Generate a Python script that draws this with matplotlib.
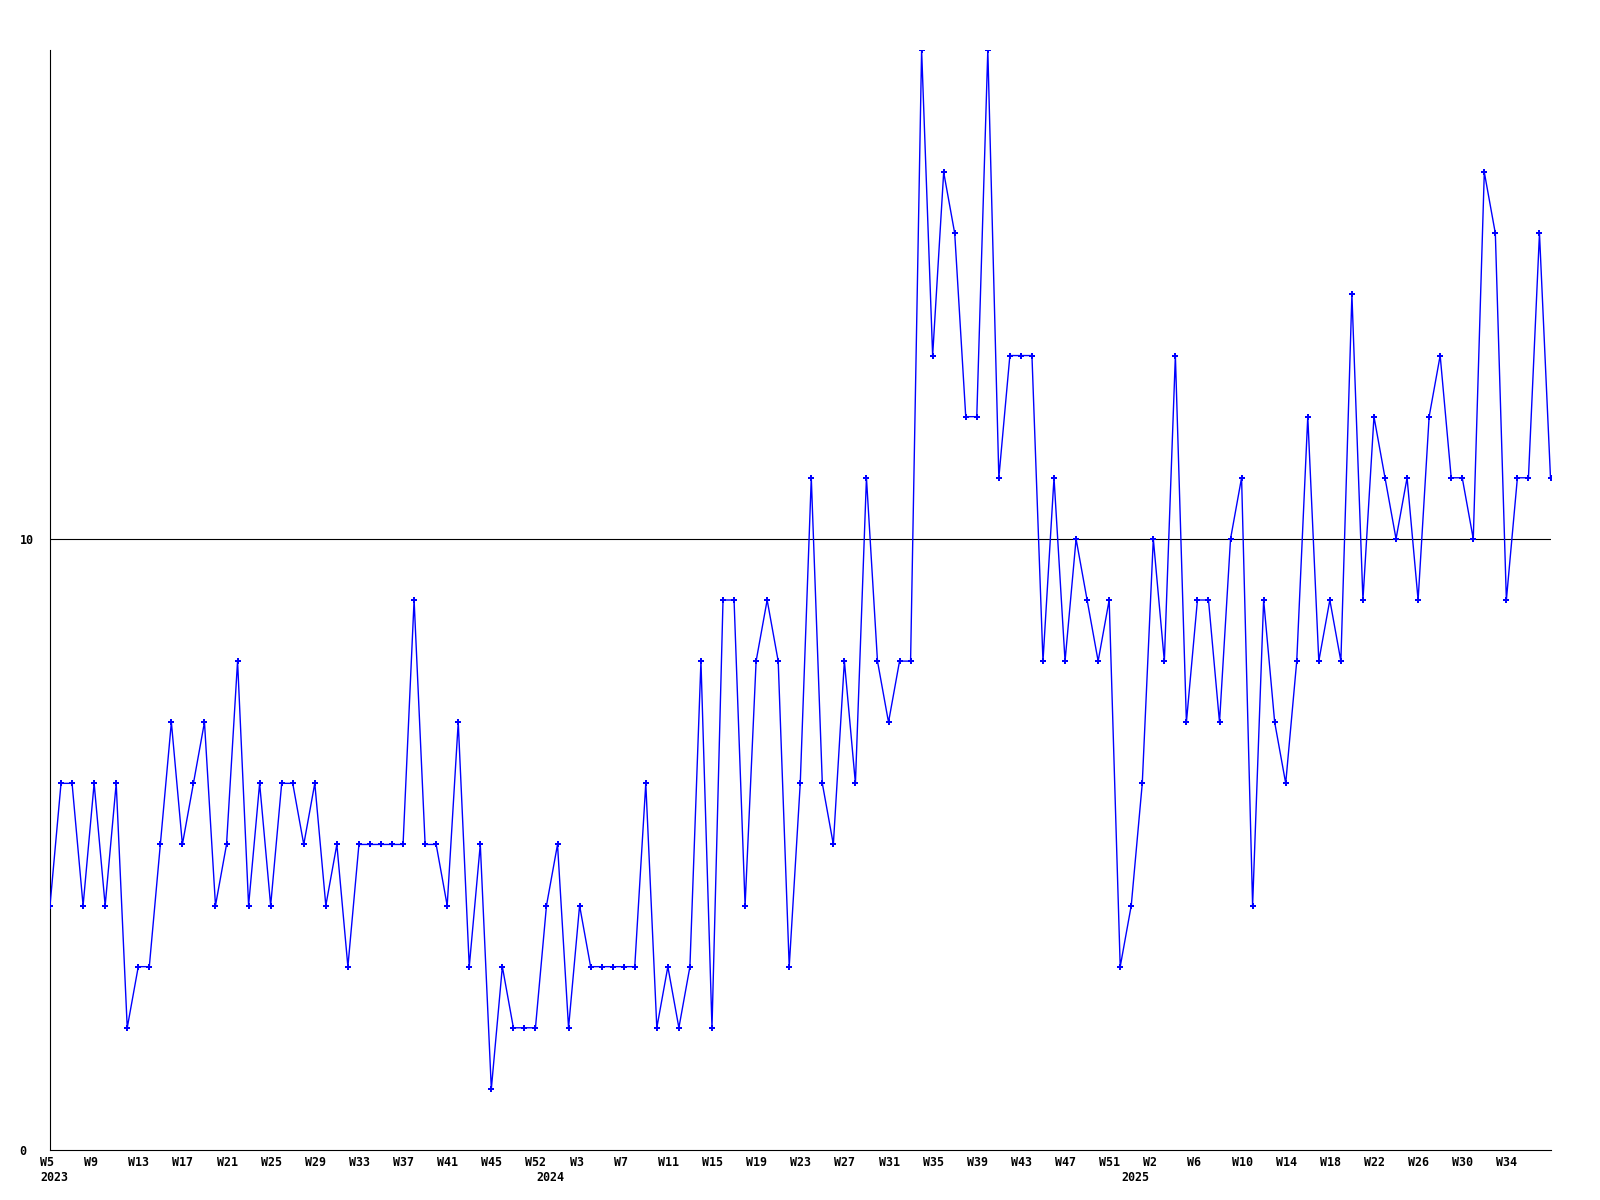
import matplotlib
matplotlib.use('Agg')
import matplotlib.pyplot as plt
from matplotlib.transforms import ScaledTranslation

values = [4, 6, 6, 4, 6, 4, 6, 2, 3, 3,
          5, 7, 5, 6, 7, 4, 5, 8, 4, 6,
          4, 6, 6, 5, 6, 4, 5, 3, 5, 5,
          5, 5, 5, 9, 5, 5, 4, 7, 3, 5,
          1, 3, 2, 2, 2, 4, 5, 2, 4, 3,
          3, 3, 3, 3, 6, 2, 3, 2, 3, 8,
          2, 9, 9, 4, 8, 9, 8, 3, 6, 11,
          6, 5, 8, 6, 11, 8, 7, 8, 8, 18,
          13, 16, 15, 12, 12, 18, 11, 13, 13, 13,
          8, 11, 8, 10, 9, 8, 9, 3, 4, 6,
          10, 8, 13, 7, 9, 9, 7, 10, 11, 4,
          9, 7, 6, 8, 12, 8, 9, 8, 14, 9,
          12, 11, 10, 11, 9, 12, 13, 11, 11, 10,
          16, 15, 9, 11, 11, 15, 11]

week_labels = ['W5', 'W9', 'W13', 'W17', 'W21', 'W25', 'W29', 'W33', 'W37',
               'W41', 'W45', 'W52', 'W3', 'W7', 'W11', 'W15', 'W19', 'W23',
               'W27', 'W31', 'W35', 'W39', 'W43', 'W47', 'W51', 'W2', 'W6',
               'W10', 'W14', 'W18', 'W22', 'W26', 'W30', 'W34']
week_step = 4
years = ['2023', '2024', '2025']
year_index = [0, 45, 98]
y_ticks = [0, 10]
y_max = 18
ref_line = 10

DPI = 100
fig = plt.figure(figsize=(16, 12), dpi=DPI)
ax = fig.add_axes([50 / 1600, 50 / 1200, 1500.5 / 1600, 1100 / 1200])

x = list(range(len(values)))
ax.plot(x, values, color='#0000ff', lw=1.0, marker='P', ms=3.8,
        markeredgewidth=0, zorder=3)
ax.axhline(ref_line, color='black', lw=0.8, zorder=2)

ax.set_xlim(0, len(values) - 1)
ax.set_ylim(0, y_max)

for s in ['top', 'right']:
    ax.spines[s].set_visible(False)
for s in ['left', 'bottom']:
    ax.spines[s].set_color('black')
    ax.spines[s].set_linewidth(0.8)

font = dict(family='DejaVu Sans Mono', weight='bold', size=8.4)

ax.xaxis.remove_overlapping_locs = False
ax.set_xticks([i * week_step for i in range(len(week_labels))])
ax.set_xticklabels(week_labels, **font)
ax.set_xticks(year_index, minor=True)
ax.set_xticklabels(years, minor=True, **font)
ax.set_yticks(y_ticks)
ax.set_yticklabels([str(v) for v in y_ticks], **font)

ax.tick_params(axis='x', which='major', length=0, pad=4.3)
ax.tick_params(axis='x', which='minor', length=0, pad=15.3)
ax.tick_params(axis='y', length=0, pad=22)

offset = ScaledTranslation(-10 / DPI, 0, fig.dpi_scale_trans)
for t in ax.xaxis.get_major_ticks() + ax.xaxis.get_minor_ticks():
    t.label1.set_horizontalalignment('left')
    t.label1.set_transform(t.label1.get_transform() + offset)
for t in ax.yaxis.get_major_ticks():
    t.label1.set_horizontalalignment('left')

fig.savefig('out.png', dpi=DPI, facecolor='white')
